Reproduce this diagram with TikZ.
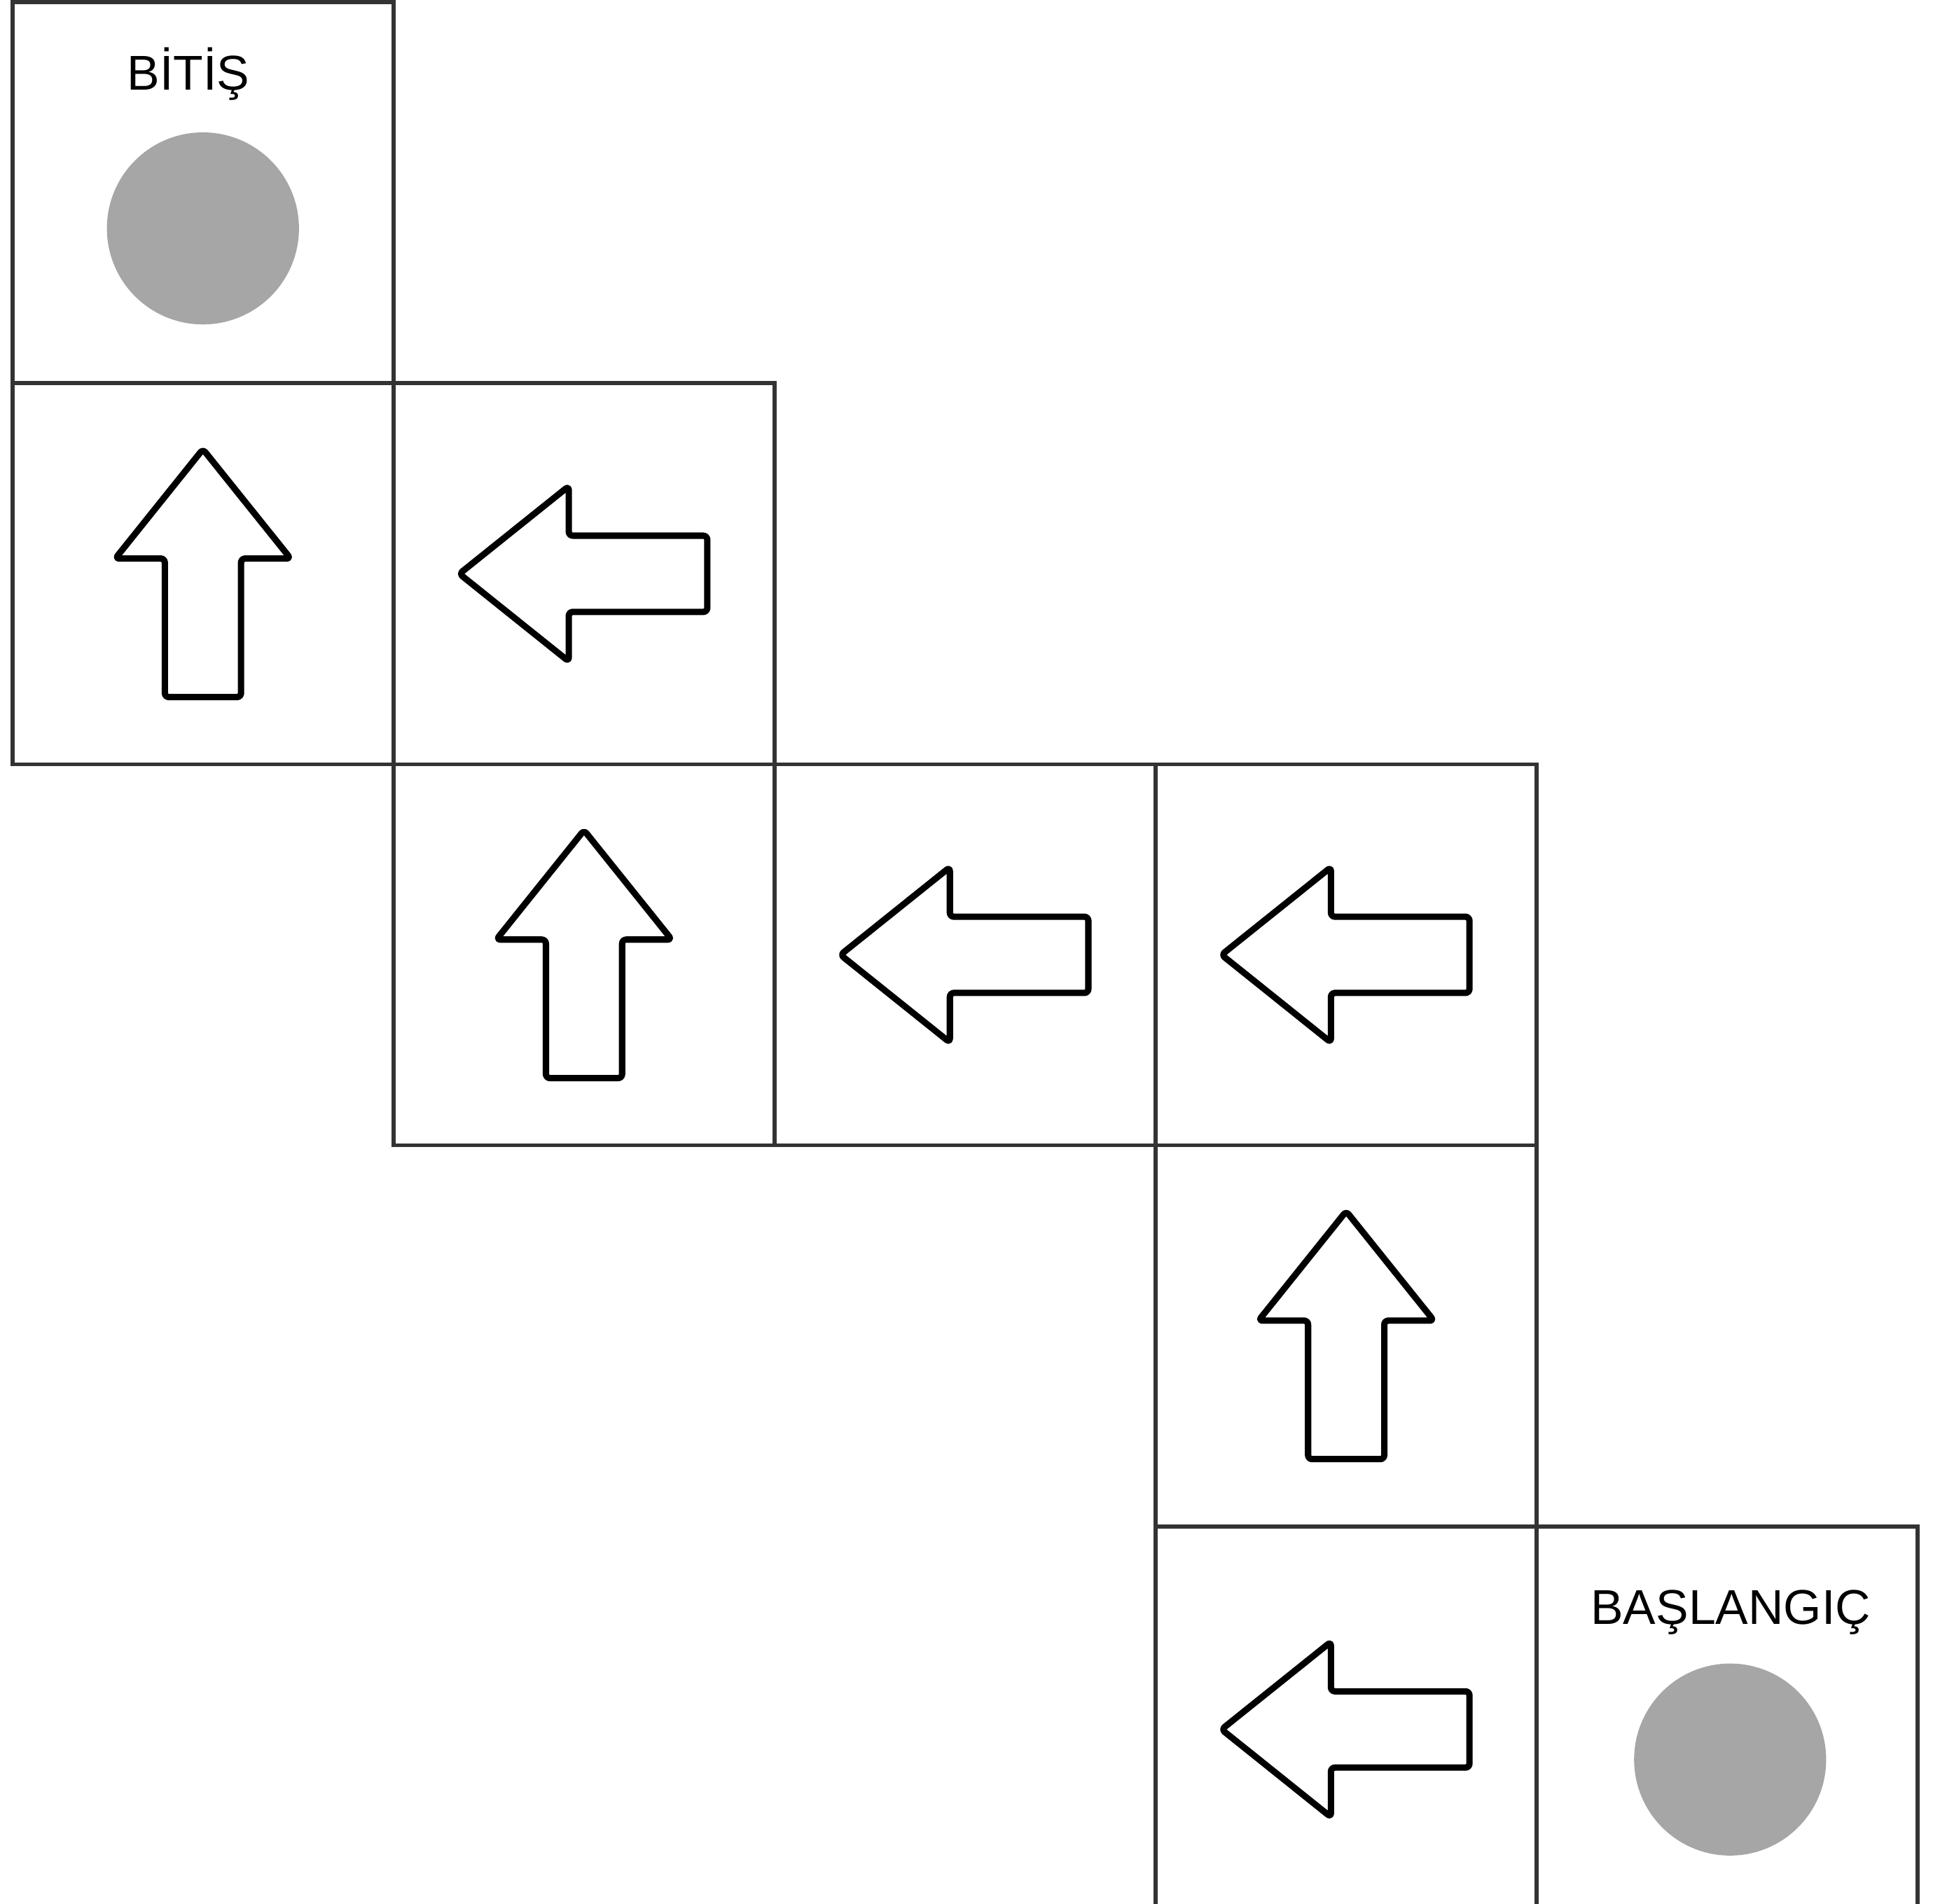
\documentclass[tikz,border=0pt]{standalone}
\usepackage{fontspec}
\setmainfont{Liberation Sans}
\usepackage{tikz}
\definecolor{CellLine}{HTML}{333333}
\definecolor{DotGray}{HTML}{A6A6A6}

\begin{document}
\begin{tikzpicture}[font=\fontsize{7.3}{9}\selectfont,
  cell/.style={draw=CellLine,line width=0.6pt,minimum size=2cm,inner sep=0pt,outer sep=0pt},
  dot/.style={circle,fill=DotGray,minimum size=1.008cm,inner sep=0pt},
  arw/.style={draw=black,line width=0.95pt,line join=round,rounded corners=0.6pt}]
  \useasboundingbox (-0.065,0.012) rectangle (10.08,-9.982);
  % board
  \node[cell] (bitis)     at (1,-1) {};
  \node[cell] (st7)       at (1,-3) {};
  \node[cell] (st6)       at (3,-3) {};
  \node[cell] (st5)       at (3,-5) {};
  \node[cell] (st4)       at (5,-5) {};
  \node[cell] (st3)       at (7,-5) {};
  \node[cell] (st2)       at (7,-7) {};
  \node[cell] (st1)       at (7,-9) {};
  \node[cell] (baslangic) at (9,-9) {};
  % end and start
  \node[anchor=base] (bitislbl) at (0.923,-0.46) {BİTİŞ};
  \node[dot] (bitisdot) at (1,-1.187) {};
  \node[anchor=base] (baslbl) at (9.018,-8.515) {BAŞLANGIÇ};
  \node[dot] (basdot) at (9.015,-9.224) {};
  % up arrows
  \foreach \n in {st7,st5,st2}
    \draw[arw,shift={(\n)}] (0,0.654) -- (0.46,0.08) -- (0.2,0.08) -- (0.2,-0.647)
      -- (-0.2,-0.647) -- (-0.2,0.08) -- (-0.46,0.08) -- cycle;
  % left arrows
  \foreach \n/\dy in {st6/0,st4/0,st3/0,st1/-0.066}
    \draw[arw,shift={(\n)},yshift=\dy cm,rotate=90] (0,0.654) -- (0.46,0.08) -- (0.2,0.08) -- (0.2,-0.647)
      -- (-0.2,-0.647) -- (-0.2,0.08) -- (-0.46,0.08) -- cycle;
\end{tikzpicture}
\end{document}
